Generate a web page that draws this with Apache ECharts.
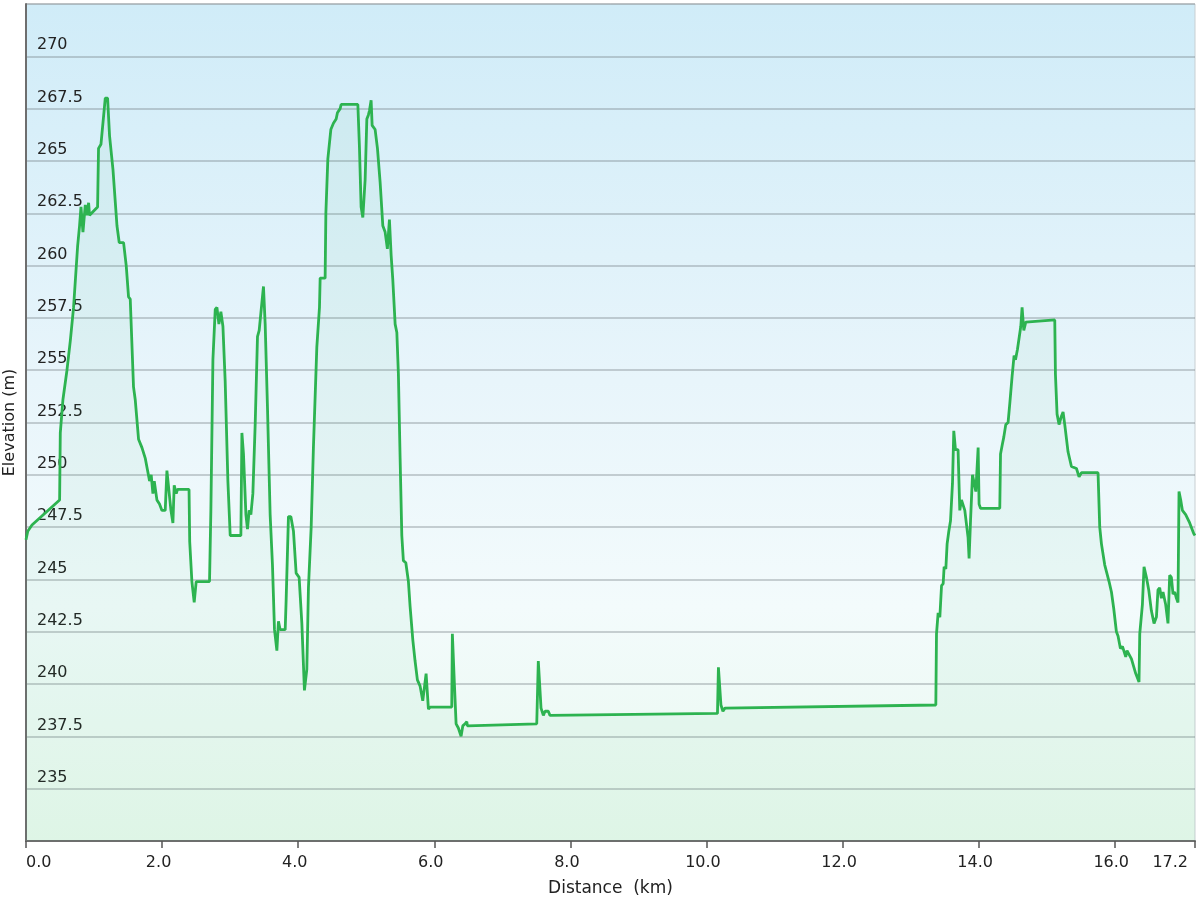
<!DOCTYPE html>
<html>
<head>
<meta charset="utf-8">
<script src="https://cdn.jsdelivr.net/npm/echarts@6/dist/echarts.min.js"></script>
<style>
html,body{margin:0;padding:0;background:#fff;}
#chart{width:1200px;height:900px;}
</style>
</head>
<body>
<div id="chart"></div>
<script>
// Distance along the route (km)
const distances = [
  0.000, 0.026, 0.088, 0.494, 0.504, 0.543, 0.602, 0.651, 0.699, 0.758,
  0.787, 0.808, 0.837, 0.871, 0.896, 0.920, 0.934, 1.052, 1.066, 1.102,
  1.165, 1.199, 1.228, 1.278, 1.337, 1.370, 1.434, 1.473, 1.507, 1.532,
  1.580, 1.605, 1.654, 1.704, 1.752, 1.816, 1.840, 1.865, 1.885, 1.924,
  1.962, 1.998, 2.046, 2.071, 2.095, 2.130, 2.159, 2.178, 2.208, 2.227,
  2.396, 2.406, 2.438, 2.472, 2.501, 2.697, 2.717, 2.747, 2.781, 2.806,
  2.835, 2.864, 2.894, 2.927, 2.967, 3.001, 3.158, 3.173, 3.196, 3.232,
  3.255, 3.280, 3.305, 3.334, 3.368, 3.402, 3.427, 3.452, 3.490, 3.515,
  3.549, 3.588, 3.622, 3.652, 3.687, 3.710, 3.735, 3.809, 3.823, 3.857,
  3.893, 3.931, 3.970, 4.014, 4.054, 4.092, 4.127, 4.151, 4.191, 4.224,
  4.274, 4.313, 4.323, 4.396, 4.407, 4.436, 4.480, 4.518, 4.558, 4.577,
  4.617, 4.631, 4.877, 4.900, 4.925, 4.950, 4.984, 5.009, 5.032, 5.047,
  5.072, 5.087, 5.131, 5.165, 5.204, 5.244, 5.278, 5.311, 5.341, 5.366,
  5.391, 5.425, 5.450, 5.473, 5.498, 5.523, 5.546, 5.582, 5.620, 5.645,
  5.685, 5.718, 5.752, 5.792, 5.831, 5.880, 5.914, 5.939, 6.257, 6.266,
  6.296, 6.321, 6.354, 6.394, 6.419, 6.453, 6.478, 6.487, 7.506, 7.529,
  7.569, 7.603, 7.628, 7.676, 7.701, 10.162, 10.176, 10.213, 10.242, 10.272,
  13.371, 13.381, 13.405, 13.430, 13.455, 13.479, 13.493, 13.518, 13.537, 13.562,
  13.587, 13.616, 13.635, 13.660, 13.698, 13.723, 13.748, 13.772, 13.797, 13.845,
  13.860, 13.881, 13.910, 13.934, 13.959, 13.993, 14.007, 14.028, 14.311, 14.322,
  14.351, 14.370, 14.399, 14.433, 14.458, 14.492, 14.521, 14.542, 14.571, 14.595,
  14.620, 14.639, 14.664, 14.693, 15.119, 15.129, 15.153, 15.182, 15.217, 15.241,
  15.266, 15.291, 15.314, 15.364, 15.438, 15.476, 15.511, 15.755, 15.780, 15.805,
  15.853, 15.917, 15.952, 15.986, 16.025, 16.049, 16.084, 16.114, 16.162, 16.181,
  16.246, 16.309, 16.357, 16.368, 16.407, 16.431, 16.466, 16.500, 16.539, 16.578,
  16.613, 16.636, 16.661, 16.686, 16.710, 16.749, 16.783, 16.808, 16.833, 16.857,
  16.882, 16.907, 16.930, 16.945, 16.970, 16.995, 17.043, 17.102, 17.161, 17.180
];

// Elevation (m)
const elevations = [
  246.9, 247.3, 247.6, 248.8, 252.0, 253.6, 255.0, 256.4, 258.0, 260.9,
  261.9, 262.8, 261.6, 262.9, 262.4, 263.0, 262.4, 262.8, 265.6, 265.8,
  268.0, 268.0, 266.2, 264.6, 261.9, 261.1, 261.1, 260.0, 258.5, 258.4,
  254.2, 253.6, 251.7, 251.3, 250.8, 249.7, 250.0, 249.1, 249.7, 248.8,
  248.6, 248.3, 248.3, 250.2, 250.2, 248.3, 247.7, 249.5, 249.1, 249.3,
  249.3, 246.8, 244.9, 243.9, 244.9, 244.9, 248.3, 255.5, 257.9, 258.0,
  257.2, 257.8, 257.1, 254.5, 249.7, 247.1, 247.1, 252.0, 251.0, 248.1,
  247.4, 248.3, 248.1, 249.1, 252.4, 256.6, 256.9, 256.9, 259.0, 257.2,
  253.2, 248.1, 245.7, 242.6, 241.6, 243.0, 242.6, 242.6, 244.0, 248.0,
  248.0, 247.3, 245.3, 245.1, 242.9, 239.7, 240.7, 244.6, 247.5, 251.3,
  256.1, 258.0, 259.4, 259.4, 262.5, 265.1, 266.5, 266.8, 267.0, 267.3,
  267.5, 267.7, 267.7, 265.7, 262.8, 262.3, 264.1, 267.0, 267.2, 267.4,
  267.9, 266.7, 266.5, 265.6, 264.0, 261.9, 261.6, 260.8, 262.2, 260.5,
  259.3, 257.2, 256.8, 254.8, 250.8, 247.1, 245.9, 245.8, 244.9, 243.7,
  242.1, 241.1, 240.2, 239.9, 239.2, 240.5, 238.8, 238.9, 238.9, 242.4,
  240.0, 238.1, 237.9, 237.5, 238.0, 238.1, 238.2, 238.0, 238.1, 241.1,
  238.85, 238.5, 238.7, 238.7, 238.5, 238.6, 240.8, 239.0, 238.7, 238.85,
  239.0, 242.4, 243.4, 243.2, 244.7, 244.8, 245.6, 245.5, 246.7, 247.3,
  247.8, 249.6, 252.1, 251.2, 251.2, 248.3, 248.8, 248.8, 248.3, 247.0,
  246.0, 247.8, 250.0, 250.0, 249.2, 251.3, 248.6, 248.4, 248.4, 251.0,
  251.5, 251.8, 252.4, 252.5, 253.4, 254.7, 255.7, 255.5, 256.0, 256.0,
  257.1, 258.0, 256.9, 257.3, 257.4, 254.8, 252.9, 252.4, 252.8, 253.0,
  252.4, 252.4, 251.1, 250.4, 250.3, 249.9, 250.1, 250.1, 247.5, 246.7,
  245.7, 244.9, 244.4, 243.6, 242.5, 242.3, 241.7, 241.8, 241.3, 241.6,
  241.2, 240.5, 240.1, 242.4, 243.8, 245.6, 245.1, 244.5, 243.5, 242.9,
  243.2, 244.5, 244.6, 244.1, 244.4, 243.8, 242.9, 245.2, 245.1, 244.3,
  244.4, 244.1, 243.9, 249.2, 248.8, 248.3, 248.1, 247.7, 247.2, 247.1
];

const xAxisName = 'Distance  (km)';
const yAxisName = 'Elevation (m)';
const xMin = 0, xMax = 17.18, xStep = 2;
const yMin = 232.5, yMax = 272.5, yStep = 2.5;

const points = distances.map((d, i) => [d, elevations[i]]);

const chart = echarts.init(document.getElementById('chart'), null, {renderer: 'canvas'});
const font = 'DejaVu Sans, Verdana, sans-serif';

chart.setOption({
  animation: false,
  backgroundColor: '#ffffff',
  grid: {
    left: 26, top: 4, width: 1169, height: 837,
    containLabel: false,
    outerBoundsMode: 'none',
    show: true,
    borderColor: '#c8cfd2',
    borderWidth: 1,
    backgroundColor: {
      type: 'linear', x: 0, y: 0, x2: 0, y2: 1,
      colorStops: [
        {offset: 0, color: '#d0ecf8'},
        {offset: 0.45, color: '#e8f5fb'},
        {offset: 0.72, color: '#f3fbfc'},
        {offset: 1, color: '#e8f9ee'}
      ]
    }
  },
  xAxis: {
    type: 'value',
    min: xMin, max: xMax, interval: xStep,
    name: xAxisName,
    nameLocation: 'middle',
    nameGap: 39,
    nameTextStyle: {fontFamily: font, fontSize: 17, color: '#222'},
    axisLine: {show: true, lineStyle: {color: '#6e6e6e', width: 2}},
    axisTick: {show: true, length: 7, lineStyle: {color: '#555', width: 1.5}},
    splitLine: {show: false},
    axisLabel: {
      fontFamily: font, fontSize: 16, color: '#222', margin: 14,
      padding: [0, 7, 0, 0],
      showMinLabel: true, showMaxLabel: true,
      alignMinLabel: 'left', alignMaxLabel: 'right',
      formatter: v => v.toFixed(1)
    }
  },
  yAxis: {
    type: 'value',
    min: yMin, max: yMax, interval: yStep,
    name: yAxisName,
    nameLocation: 'middle',
    nameGap: 6,
    nameTextStyle: {fontFamily: font, fontSize: 16, color: '#222'},
    axisLine: {show: true, lineStyle: {color: '#6e6e6e', width: 2}},
    axisTick: {show: false},
    splitLine: {show: true, lineStyle: {color: 'rgba(110,120,125,0.45)', width: 1.5}},
    axisLabel: {
      inside: true, margin: 11,
      fontFamily: font, fontSize: 16, color: '#222',
      verticalAlign: 'bottom', padding: [0, 0, 3, 0],
      showMinLabel: false, showMaxLabel: false
    }
  },
  series: [{
    type: 'line',
    data: points,
    showSymbol: false,
    symbol: 'none',
    lineStyle: {color: '#2db350', width: 2.8},
    itemStyle: {color: '#2db350'},
    areaStyle: {color: 'rgba(60,190,110,0.08)'},
    z: 3
  }]
});
</script>
</body>
</html>
